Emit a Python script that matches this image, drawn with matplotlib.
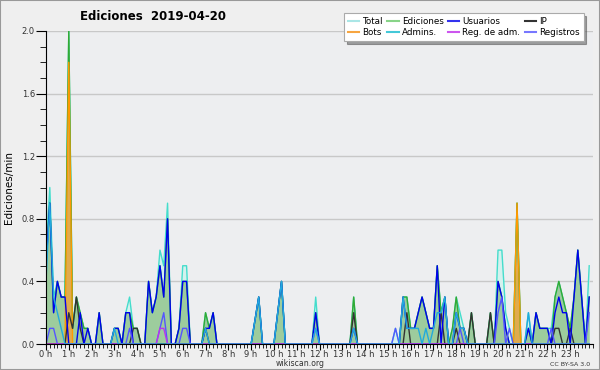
import matplotlib
matplotlib.use("Agg")
import matplotlib.pyplot as plt
import numpy as np
from matplotlib.lines import Line2D
from matplotlib.patches import Rectangle
from matplotlib.ticker import MultipleLocator, FormatStrFormatter

# one value per 10 minutes, 144 slots (edits / min)
total = [
    0.6, 1.0, 0.3, 0.4, 0.3, 0.3, 2.0, 0.1, 0.3, 0.2, 0.1, 0.1,
    0, 0, 0.2, 0, 0, 0, 0.1, 0.1, 0, 0.2, 0.3, 0.1,
    0.1, 0, 0, 0.4, 0.2, 0.3, 0.6, 0.5, 0.9, 0, 0, 0.1,
    0.5, 0.5, 0, 0, 0, 0, 0.2, 0.1, 0.2, 0, 0, 0,
    0, 0, 0, 0, 0, 0, 0, 0.15, 0.3, 0, 0, 0,
    0, 0.2, 0.4, 0, 0, 0, 0, 0, 0, 0, 0, 0.3,
    0, 0, 0, 0, 0, 0, 0, 0, 0, 0.3, 0, 0,
    0, 0, 0, 0, 0, 0, 0, 0, 0.1, 0, 0.3, 0.3,
    0.1, 0.1, 0.2, 0.3, 0.2, 0.1, 0.1, 0.5, 0.2, 0.3, 0, 0.1,
    0.3, 0.2, 0.1, 0, 0.2, 0, 0, 0, 0, 0.2, 0, 0.6,
    0.6, 0.2, 0.1, 0, 0.9, 0, 0, 0.2, 0, 0.2, 0.1, 0.1,
    0.1, 0.1, 0.3, 0.4, 0.3, 0.2, 0.1, 0.3, 0.6, 0.3, 0, 0.5,
]
ediciones = [
    0.5, 0.9, 0.2, 0.4, 0.3, 0.3, 2.0, 0.1, 0.3, 0.2, 0.1, 0.1,
    0, 0, 0.2, 0, 0, 0, 0.1, 0.1, 0, 0.2, 0.2, 0.1,
    0.1, 0, 0, 0.4, 0.2, 0.3, 0.5, 0.3, 0.8, 0, 0, 0.1,
    0.4, 0.4, 0, 0, 0, 0, 0.2, 0.1, 0.2, 0, 0, 0,
    0, 0, 0, 0, 0, 0, 0, 0.15, 0.3, 0, 0, 0,
    0, 0.2, 0.4, 0, 0, 0, 0, 0, 0, 0, 0, 0.2,
    0, 0, 0, 0, 0, 0, 0, 0, 0, 0.3, 0, 0,
    0, 0, 0, 0, 0, 0, 0, 0, 0, 0, 0.3, 0.3,
    0.1, 0.1, 0.2, 0.3, 0.2, 0.1, 0.1, 0.5, 0.2, 0.3, 0, 0.1,
    0.3, 0.1, 0.1, 0, 0.2, 0, 0, 0, 0, 0.2, 0, 0.4,
    0.3, 0.1, 0, 0, 0.9, 0, 0, 0.1, 0, 0.2, 0.1, 0.1,
    0.1, 0, 0.3, 0.4, 0.3, 0.2, 0.1, 0.3, 0.6, 0.3, 0, 0.3,
]
usuarios = [
    0.5, 0.9, 0.2, 0.4, 0.3, 0.3, 0, 0, 0, 0.2, 0, 0.1,
    0, 0, 0.2, 0, 0, 0, 0.1, 0.1, 0, 0.2, 0.2, 0,
    0, 0, 0, 0.4, 0.2, 0.3, 0.5, 0.3, 0.8, 0, 0, 0.1,
    0.4, 0.4, 0, 0, 0, 0, 0.1, 0.1, 0.2, 0, 0, 0,
    0, 0, 0, 0, 0, 0, 0, 0.15, 0.3, 0, 0, 0,
    0, 0.2, 0.4, 0, 0, 0, 0, 0, 0, 0, 0, 0.2,
    0, 0, 0, 0, 0, 0, 0, 0, 0, 0.1, 0, 0,
    0, 0, 0, 0, 0, 0, 0, 0, 0, 0, 0.3, 0.1,
    0.1, 0.1, 0.2, 0.3, 0.2, 0.1, 0.1, 0.5, 0, 0.3, 0, 0,
    0.2, 0.1, 0.1, 0, 0, 0, 0, 0, 0, 0, 0, 0.4,
    0.3, 0.1, 0, 0, 0, 0, 0, 0.1, 0, 0.2, 0.1, 0.1,
    0.1, 0, 0.2, 0.3, 0.2, 0.2, 0, 0.3, 0.6, 0.3, 0, 0.3,
]
ip = [
    0, 0, 0, 0, 0, 0, 0.2, 0.1, 0.3, 0.1, 0, 0,
    0, 0, 0, 0, 0, 0, 0, 0, 0, 0, 0, 0.1,
    0.1, 0, 0, 0, 0, 0, 0, 0, 0, 0, 0, 0,
    0, 0, 0, 0, 0, 0, 0.1, 0, 0, 0, 0, 0,
    0, 0, 0, 0, 0, 0, 0, 0, 0, 0, 0, 0,
    0, 0, 0, 0, 0, 0, 0, 0, 0, 0, 0, 0,
    0, 0, 0, 0, 0, 0, 0, 0, 0, 0.2, 0, 0,
    0, 0, 0, 0, 0, 0, 0, 0, 0, 0, 0, 0.2,
    0, 0, 0, 0, 0, 0, 0, 0, 0.2, 0, 0, 0,
    0.1, 0, 0, 0, 0.2, 0, 0, 0, 0, 0.2, 0, 0,
    0, 0, 0, 0, 0, 0, 0, 0, 0, 0, 0, 0,
    0, 0, 0.1, 0.1, 0, 0, 0.1, 0, 0, 0, 0, 0,
]
bots = [
    0, 0, 0, 0, 0, 0, 1.8, 0, 0, 0, 0, 0,
    0, 0, 0, 0, 0, 0, 0, 0, 0, 0, 0, 0,
    0, 0, 0, 0, 0, 0, 0, 0, 0, 0, 0, 0,
    0, 0, 0, 0, 0, 0, 0, 0, 0, 0, 0, 0,
    0, 0, 0, 0, 0, 0, 0, 0, 0, 0, 0, 0,
    0, 0, 0, 0, 0, 0, 0, 0, 0, 0, 0, 0,
    0, 0, 0, 0, 0, 0, 0, 0, 0, 0, 0, 0,
    0, 0, 0, 0, 0, 0, 0, 0, 0, 0, 0, 0,
    0, 0, 0, 0, 0, 0, 0, 0, 0, 0, 0, 0,
    0, 0, 0, 0, 0, 0, 0, 0, 0, 0, 0, 0,
    0, 0, 0, 0, 0.9, 0, 0, 0, 0, 0, 0, 0,
    0, 0, 0, 0, 0, 0, 0, 0, 0, 0, 0, 0,
]
admins = [
    0.4, 0.9, 0.3, 0.2, 0.1, 0, 0, 0, 0, 0, 0, 0,
    0, 0, 0, 0, 0, 0, 0.1, 0, 0, 0, 0, 0,
    0, 0, 0, 0, 0, 0, 0, 0, 0, 0, 0, 0,
    0, 0, 0, 0, 0, 0, 0.1, 0, 0, 0, 0, 0,
    0, 0, 0, 0, 0, 0, 0, 0.15, 0.3, 0, 0, 0,
    0, 0.2, 0.4, 0, 0, 0, 0, 0, 0, 0, 0, 0.1,
    0, 0, 0, 0, 0, 0, 0, 0, 0, 0.1, 0, 0,
    0, 0, 0, 0, 0, 0, 0, 0, 0, 0, 0.3, 0.1,
    0.1, 0.1, 0.1, 0, 0.1, 0, 0.1, 0.2, 0.2, 0.3, 0, 0,
    0.2, 0.1, 0.1, 0, 0, 0, 0, 0, 0, 0, 0, 0,
    0, 0, 0, 0, 0, 0, 0, 0.2, 0, 0, 0, 0,
    0, 0, 0, 0, 0, 0, 0, 0, 0, 0, 0, 0,
]
reg_adm = [
    0, 0, 0, 0, 0, 0, 0, 0, 0, 0, 0, 0,
    0, 0, 0, 0, 0, 0, 0, 0, 0, 0, 0, 0,
    0, 0, 0, 0, 0, 0, 0.1, 0.1, 0, 0, 0, 0,
    0, 0, 0, 0, 0, 0, 0, 0, 0, 0, 0, 0,
    0, 0, 0, 0, 0, 0, 0, 0, 0, 0, 0, 0,
    0, 0, 0, 0, 0, 0, 0, 0, 0, 0, 0, 0,
    0, 0, 0, 0, 0, 0, 0, 0, 0, 0, 0, 0,
    0, 0, 0, 0, 0, 0, 0, 0, 0, 0, 0, 0,
    0, 0, 0, 0, 0, 0, 0, 0, 0, 0, 0, 0,
    0, 0, 0, 0, 0, 0, 0, 0, 0, 0, 0, 0,
    0, 0, 0, 0, 0, 0, 0, 0, 0, 0, 0, 0,
    0, 0, 0, 0, 0, 0, 0, 0, 0, 0, 0, 0,
]
registros = [
    0, 0.1, 0.1, 0, 0, 0, 0, 0, 0, 0, 0, 0,
    0, 0, 0, 0, 0, 0, 0, 0, 0, 0, 0.1, 0,
    0, 0, 0, 0, 0, 0, 0.1, 0.2, 0, 0, 0, 0,
    0.1, 0.1, 0, 0, 0, 0, 0, 0, 0, 0, 0, 0,
    0, 0, 0, 0, 0, 0, 0, 0, 0, 0, 0, 0,
    0, 0, 0, 0, 0, 0, 0, 0, 0, 0, 0, 0.1,
    0, 0, 0, 0, 0, 0, 0, 0, 0, 0, 0, 0,
    0, 0, 0, 0, 0, 0, 0, 0, 0.1, 0, 0, 0,
    0, 0, 0, 0, 0, 0, 0, 0, 0, 0, 0, 0,
    0, 0.1, 0, 0, 0, 0, 0, 0, 0, 0, 0, 0.2,
    0.3, 0, 0.1, 0, 0, 0, 0, 0, 0, 0, 0, 0,
    0, 0.1, 0, 0, 0, 0, 0, 0, 0, 0, 0, 0.2,
]
hour_labels = [f"{h} h" for h in range(24)]

t = np.arange(len(total)) / 6.0  # hours

fig = plt.figure(figsize=(6, 3.7), dpi=100, facecolor="#efefef")
ax = fig.add_axes([46 / 600, 26 / 370, 547 / 600, 313 / 370])
ax.set_facecolor("#edeef0")

# filled areas
ax.fill_between(t, total, color="#d4f1ee", lw=0)
ax.fill_between(t, ediciones, color="#9dcc9d", lw=0)
ax.fill_between(t, bots, color="#f2a33a", alpha=0.8, lw=0)

lw = 1.0
ax.plot(t, total, color="#44ddcc", lw=lw)
ax.plot(t, ediciones, color="#33aa33", lw=lw)
ax.plot(t, bots, color="#ff9900", lw=lw)
ax.plot(t, ip, color="#333333", lw=lw)
ax.plot(t, usuarios, color="#0000ee", lw=lw)
ax.plot(t, registros, color="#5555ff", lw=lw)
ax.plot(t, reg_adm, color="#bb33ee", lw=lw)
ax.plot(t, admins, color="#22aadd", lw=lw)

ax.set_xlim(0, 24)
ax.set_ylim(0, 2.0)
ax.yaxis.set_major_locator(MultipleLocator(0.4))
ax.yaxis.set_minor_locator(MultipleLocator(0.1))
ax.yaxis.set_major_formatter(FormatStrFormatter("%.1f"))
ax.set_xticks(range(24))
ax.set_xticklabels(hour_labels)
ax.xaxis.set_minor_locator(MultipleLocator(1 / 6))
ax.grid(axis="y", color="#c8c8c8", lw=1)
ax.set_axisbelow(True)
for s in ["top", "right"]:
    ax.spines[s].set_visible(False)
ax.tick_params(axis="y", which="major", length=7, labelsize=6, pad=1, labelcolor="#333")
ax.tick_params(axis="y", which="minor", length=4)
ax.tick_params(axis="x", which="major", length=4, labelsize=6, pad=0, labelcolor="#333")
ax.tick_params(axis="x", which="minor", length=3)
ax.set_ylabel("Ediciones/min", fontsize=7.5)
ax.yaxis.set_label_coords(-0.058, 0.5)

fig.text(153 / 600, 1 - 17 / 370, "Ediciones  2019-04-20", ha="center", va="center",
         fontsize=8.5, fontweight="bold")

handles = [
    Line2D([], [], color="#aae6e6"), Line2D([], [], color="#f7a540"),
    Line2D([], [], color="#88d488"), Line2D([], [], color="#44c8d8"),
    Line2D([], [], color="#3333ee"), Line2D([], [], color="#cc55ee"),
    Line2D([], [], color="#333333"), Line2D([], [], color="#7777ff"),
]
labels = ["Total", "Bots", "Ediciones", "Admins.", "Usuarios", "Reg. de adm.", "IP", "Registros"]
leg = fig.legend(handles, labels, loc="upper right", bbox_to_anchor=(588 / 600, 1 - 9 / 370),
                 ncol=4, fontsize=6.3, frameon=True, fancybox=False, shadow=True,
                 edgecolor="#aaaaaa", borderpad=0.45, labelspacing=0.2, columnspacing=0.5,
                 handlelength=1.3, handletextpad=0.35)
leg.get_frame().set_linewidth(0.8)

fig.text(0.5, 1 - 364 / 370, "wikiscan.org", ha="center", va="center", fontsize=5.6, color="#333")
fig.text(570 / 600, 1 - 364 / 370, "CC BY-SA 3.0", ha="center", va="center", fontsize=4.5, color="#333")
fig.add_artist(Rectangle((0, 0), 1, 1, transform=fig.transFigure, fill=False,
                         edgecolor="#999999", lw=1.5))

fig.savefig("out.png", dpi=100, facecolor=fig.get_facecolor())
